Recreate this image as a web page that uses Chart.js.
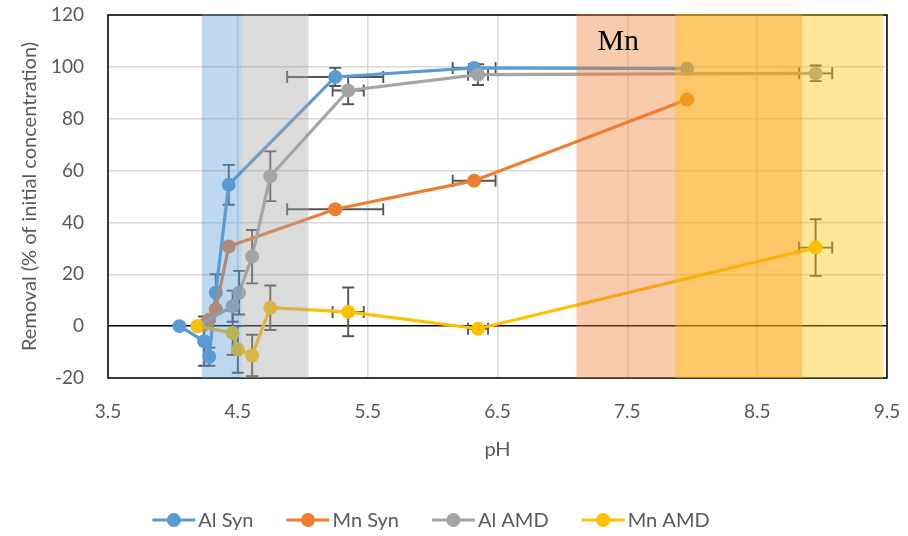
<!DOCTYPE html>
<html>
<head>
<meta charset="utf-8">
<script src="https://cdn.jsdelivr.net/npm/chart.js@4/dist/chart.umd.min.js"></script>
<style>
  html, body { margin: 0; padding: 0; background: #fff; }
  #wrap { width: 908px; height: 536px; }
</style>
</head>
<body>
<div id="wrap"><canvas id="c" width="908" height="536"></canvas></div>
<script>
// ---- data ----
const seriesNames = ['Al Syn', 'Mn Syn', 'Al AMD', 'Mn AMD'];

const alSynPH        = [4.05, 4.24, 4.28, 4.33, 4.43, 5.25, 6.32, 7.96];
const alSynRemoval   = [0, -5.8, -11.8, 12.9, 54.5, 96.1, 99.6, 99.3];
const alSynPHErr     = [0, 0, 0, 0, 0, 0.37, 0.165, 0];
const alSynRemErr    = [0, 9.5, 3.5, 7.1, 7.7, 3.5, 1.5, 0];

const mnSynPH        = [4.24, 4.28, 4.33, 4.43, 5.25, 6.32, 7.96];
const mnSynRemoval   = [0.5, 2.5, 6.5, 30.7, 45.1, 56.1, 87.4];
const mnSynPHErr     = [0, 0, 0, 0, 0.37, 0.165, 0];
const mnSynRemErr    = [0, 0, 0, 0, 0, 1, 0];

const alAmdPH        = [4.19, 4.46, 4.51, 4.61, 4.75, 5.35, 6.35, 8.95];
const alAmdRemoval   = [0, 7.7, 12.9, 26.8, 57.8, 90.9, 97.0, 97.5];
const alAmdPHErr     = [0, 0, 0, 0, 0, 0.12, 0.077, 0.128];
const alAmdRemErr    = [0, 6, 8.4, 10.3, 9.6, 5.3, 4, 3];

const mnAmdPH        = [4.19, 4.46, 4.50, 4.61, 4.75, 5.35, 6.35, 8.95];
const mnAmdRemoval   = [0, -2.6, -9.0, -11.3, 7.1, 5.5, -1.0, 30.3];
const mnAmdPHErr     = [0, 0, 0, 0, 0, 0.12, 0.077, 0.128];
const mnAmdRemErr    = [0, 8.5, 9, 8, 8.6, 9.4, 1, 10.9];

// pH ranges shaded on the plot: [from, to]
const alSynRange = [4.223, 4.531];
const alAmdRange = [4.531, 5.044];
const mnSynRange = [7.108, 8.846];
const mnAmdRange = [7.869, 9.469];

const xTicks = [3.5, 4.5, 5.5, 6.5, 7.5, 8.5, 9.5];
const yTicks = [-20, 0, 20, 40, 60, 80, 100, 120];

const bandLabel = 'Mn';
const bandLabelPos = [7.43, 109.5];

// ---- styling ----
const colors = ['#5B9BD5', '#ED7D31', '#A5A5A5', '#FFC000'];
const FONT = 'Lato, "Open Sans", "Liberation Sans", sans-serif';
const TXT = '#595959';

function pts(xs, ys, xe, ye) {
  return xs.map((x, i) => ({ x: x, y: ys[i], xErr: xe[i], yErr: ye[i] }));
}

const seriesData = [
  pts(alSynPH, alSynRemoval, alSynPHErr, alSynRemErr),
  pts(mnSynPH, mnSynRemoval, mnSynPHErr, mnSynRemErr),
  pts(alAmdPH, alAmdRemoval, alAmdPHErr, alAmdRemErr),
  pts(mnAmdPH, mnAmdRemoval, mnAmdPHErr, mnAmdRemErr)
];

const datasets = seriesNames.map((name, i) => ({
  label: name,
  data: seriesData[i],
  showLine: true,
  borderColor: colors[i],
  backgroundColor: colors[i],
  borderWidth: 3.2,
  pointRadius: 7,
  pointHoverRadius: 7,
  pointBorderWidth: 0,
  order: 4 - i
}));

const overlayPlugin = {
  id: 'overlay',
  beforeDatasetsDraw(chart) {
    const { ctx, chartArea: a, scales: { x, y } } = chart;
    ctx.save();
    // plot frame
    ctx.strokeStyle = '#000';
    ctx.lineWidth = 1.5;
    ctx.strokeRect(a.left, a.top, a.right - a.left, a.bottom - a.top);
    // error bars
    ctx.strokeStyle = '#555';
    ctx.lineWidth = 1.9;
    const cap = 6;
    chart.data.datasets.forEach(ds => {
      ds.data.forEach(p => {
        const px = x.getPixelForValue(p.x), py = y.getPixelForValue(p.y);
        ctx.beginPath();
        if (p.yErr) {
          const y1 = y.getPixelForValue(p.y + p.yErr), y2 = y.getPixelForValue(p.y - p.yErr);
          ctx.moveTo(px, y1); ctx.lineTo(px, y2);
          ctx.moveTo(px - cap, y1); ctx.lineTo(px + cap, y1);
          ctx.moveTo(px - cap, y2); ctx.lineTo(px + cap, y2);
        }
        if (p.xErr) {
          const x1 = x.getPixelForValue(p.x - p.xErr), x2 = x.getPixelForValue(p.x + p.xErr);
          ctx.moveTo(x1, py); ctx.lineTo(x2, py);
          ctx.moveTo(x1, py - cap); ctx.lineTo(x1, py + cap);
          ctx.moveTo(x2, py - cap); ctx.lineTo(x2, py + cap);
        }
        ctx.stroke();
      });
    });
    ctx.restore();
  },
  afterDatasetsDraw(chart) {
    const { ctx, chartArea: a, scales: { x, y } } = chart;
    ctx.save();
    const bands = [[alSynRange, colors[0]], [alAmdRange, colors[2]], [mnSynRange, colors[1]], [mnAmdRange, colors[3]]];
    ctx.globalAlpha = 0.4;
    bands.forEach(([r, c]) => {
      const x1 = x.getPixelForValue(r[0]), x2 = x.getPixelForValue(r[1]);
      ctx.fillStyle = c;
      ctx.fillRect(x1, a.top - 1, x2 - x1, a.bottom - a.top + 1);
    });
    ctx.globalAlpha = 1;
    ctx.fillStyle = '#000';
    ctx.font = '30px "Liberation Serif", "Times New Roman", serif';
    ctx.textAlign = 'center';
    ctx.textBaseline = 'middle';
    ctx.fillText(bandLabel, x.getPixelForValue(bandLabelPos[0]), y.getPixelForValue(bandLabelPos[1]));
    ctx.restore();
  },
  afterDraw(chart) {
    // legend: line with a marker, then the series name
    const ctx = chart.ctx;
    ctx.save();
    ctx.font = '20px ' + FONT;
    ctx.textBaseline = 'middle';
    const lineLen = 43, gapText = 3, gapItem = 33, cy = 520;
    const widths = chart.data.datasets.map(d => ctx.measureText(d.label).width);
    const total = widths.reduce((s, w) => s + lineLen + gapText + w, 0) + gapItem * (widths.length - 1);
    let cx = 431 - total / 2;
    chart.data.datasets.forEach((d, i) => {
      ctx.strokeStyle = d.borderColor;
      ctx.lineWidth = 3.2;
      ctx.beginPath(); ctx.moveTo(cx, cy); ctx.lineTo(cx + lineLen, cy); ctx.stroke();
      ctx.fillStyle = d.backgroundColor;
      ctx.beginPath(); ctx.arc(cx + lineLen / 2, cy, 7, 0, Math.PI * 2); ctx.fill();
      ctx.fillStyle = TXT;
      ctx.textAlign = 'left';
      ctx.fillText(d.label, cx + lineLen + gapText, cy + 1);
      cx += lineLen + gapText + widths[i] + gapItem;
    });
    ctx.restore();
  }
};

new Chart(document.getElementById('c'), {
  type: 'scatter',
  data: { datasets: datasets },
  options: {
    responsive: false,
    animation: false,
    layout: { padding: { left: 0, right: 21, top: 15, bottom: 58 } },
    plugins: { legend: { display: false }, tooltip: { enabled: false } },
    scales: {
      x: {
        type: 'linear',
        min: xTicks[0],
        max: xTicks[xTicks.length - 1],
        afterBuildTicks: s => { s.ticks = xTicks.map(v => ({ value: v })); },
        afterFit: s => { s.height = 100; s.paddingLeft = 0; s.paddingRight = 0; },
        grid: { color: '#d9d9d9', lineWidth: 1.5, drawTicks: false },
        border: { display: false },
        ticks: { color: TXT, font: { family: FONT, size: 19 }, padding: 22, maxRotation: 0,
                 callback: v => v.toFixed(1) },
        title: { display: true, text: 'pH', color: TXT, font: { family: FONT, size: 20 },
                 padding: { top: 0, bottom: 16 } }
      },
      y: {
        min: yTicks[0],
        max: yTicks[yTicks.length - 1],
        afterBuildTicks: s => { s.ticks = yTicks.map(v => ({ value: v })); },
        afterFit: s => { s.width = 108; s.paddingTop = 0; s.paddingBottom = 0; },
        grid: {
          color: c => c.tick && c.tick.value === 0 ? '#000' : '#d9d9d9',
          lineWidth: 1.5,
          drawTicks: false
        },
        border: { display: false },
        ticks: { color: TXT, font: { family: FONT, size: 19 }, padding: 24 },
        title: { display: true, text: 'Removal (% of initial concentration)', color: TXT,
                 font: { family: FONT, size: 20 }, padding: { top: 18, bottom: 0 } }
      }
    }
  },
  plugins: [overlayPlugin]
});
</script>
</body>
</html>
